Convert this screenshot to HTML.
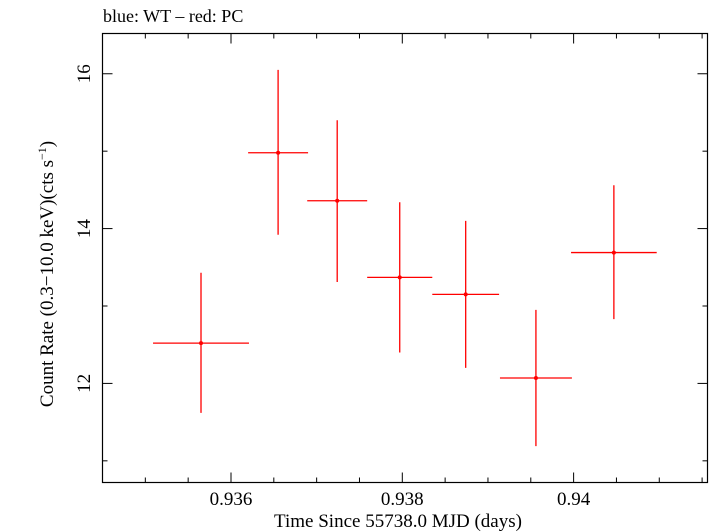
<!DOCTYPE html>
<html><head><meta charset="utf-8"><style>
body{margin:0;background:#fff;}
svg{display:block;font-family:"Liberation Serif",serif;}
</style></head><body>
<svg id="chart" width="709" height="532">
<text x="103" y="22" font-size="18">blue: WT – red: PC</text>
<rect x="102.5" y="33.5" width="605" height="449" fill="none" stroke="#000" stroke-width="1.2"/>
<g id="axes"></g>
<g id="marks"></g>
<text x="398" y="527" font-size="19" text-anchor="middle">Time Since 55738.0 MJD (days)</text>
<text transform="translate(53,274) rotate(-90)" font-size="19" text-anchor="middle">Count Rate (0.3−10.0 keV)(cts s<tspan font-size="12" dy="-7">−1</tspan><tspan dy="7">)</tspan></text>
</svg>
<script>
const times = [0.93565, 0.93655, 0.93724, 0.93797, 0.93874, 0.93956, 0.94047];
const timeErr = [0.00056, 0.00035, 0.00035, 0.00038, 0.00039, 0.00042, 0.0005];
const rates = [12.52, 14.98, 14.36, 13.37, 13.15, 12.07, 13.69];
const rateHi = [13.43, 16.05, 15.40, 14.34, 14.10, 12.95, 14.56];
const rateLo = [11.62, 13.92, 13.31, 12.40, 12.20, 11.19, 12.83];
const xTicks = [0.936, 0.938, 0.94];
const xTickLabels = ["0.936", "0.938", "0.94"];
const yTicks = [12, 14, 16];
const yTickLabels = ["12", "14", "16"];
const xMinor = [0.935, 0.9355, 0.936, 0.9365, 0.937, 0.9375, 0.938, 0.9385, 0.939, 0.9395, 0.94, 0.9405, 0.941, 0.9415];
const yMinor = [11, 12, 13, 14, 15, 16];

const X0=102.5, X1=707.5, Y0=482.5, Y1=33.5;
const xMin=0.93450, xMax=0.941563, yMin=10.72, yMax=16.52;
const sx=v=>X0+(v-xMin)/(xMax-xMin)*(X1-X0);
const sy=v=>Y0-(v-yMin)/(yMax-yMin)*(Y0-Y1);
const NS="http://www.w3.org/2000/svg";
const axes=document.getElementById('axes'), marks=document.getElementById('marks');
function mk(tag,attrs,parent){const e=document.createElementNS(NS,tag);for(const k in attrs)e.setAttribute(k,attrs[k]);parent.appendChild(e);return e;}
xMinor.forEach(v=>{
  const major=xTicks.some(t=>Math.abs(t-v)<1e-7);const L=major?10:5;const x=sx(v);
  const a=mk('line',{x1:x,x2:x,y1:Y0,y2:Y0-L,stroke:'#000'},axes);
  
  
  const b=mk('line',{x1:x,x2:x,y1:Y1,y2:Y1+L,stroke:'#000'},axes);
  
  
});
xTicks.forEach((v,i)=>{
  const t=mk('text',{x:sx(v),y:505,'font-size':19,'text-anchor':'middle'},axes);t.textContent=xTickLabels[i];
  
  
});
yMinor.forEach(v=>{
  const major=yTicks.includes(v);const L=major?10:5;const y=sy(v);
  const a=mk('line',{x1:X0,x2:X0+L,y1:y,y2:y,stroke:'#000'},axes);
  
  
  const b=mk('line',{x1:X1,x2:X1-L,y1:y,y2:y,stroke:'#000'},axes);
  
  
});
yTicks.forEach((v,i)=>{
  const t=mk('text',{'font-size':19,'text-anchor':'middle',transform:`translate(90,${sy(v)}) rotate(-90)`},axes);t.textContent=yTickLabels[i];
  
  
});
times.forEach((t,i)=>{
  const g=mk('g',{},marks);
  
  
  mk('line',{x1:sx(t-timeErr[i]),x2:sx(t+timeErr[i]),y1:sy(rates[i]),y2:sy(rates[i]),stroke:'#f00','stroke-width':1.3},g);
  mk('line',{x1:sx(t),x2:sx(t),y1:sy(rateLo[i]),y2:sy(rateHi[i]),stroke:'#f00','stroke-width':1.3},g);
  mk('circle',{cx:sx(t),cy:sy(rates[i]),r:2,fill:'#f00'},g);
});
</script>
</body></html>
